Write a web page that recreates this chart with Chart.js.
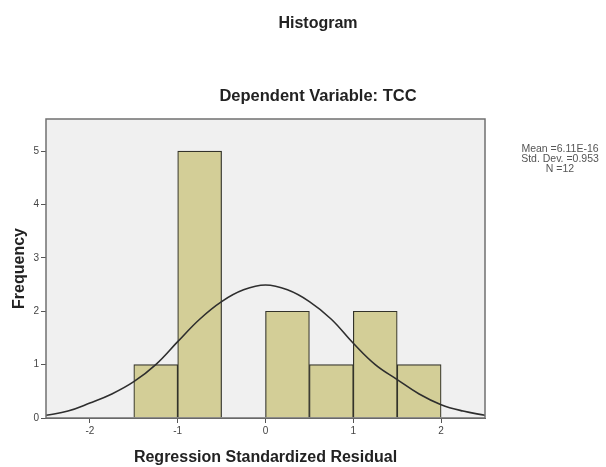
<!DOCTYPE html>
<html>
<head>
<meta charset="utf-8">
<script src="https://cdn.jsdelivr.net/npm/chart.js@4"></script>
<style>
  body { margin: 0; background: #fff; }
  #wrap { width: 606px; height: 467px; position: relative; }
</style>
</head>
<body>
<div id="wrap"><canvas id="histChart"></canvas></div>
<script>
// bin centres (width 0.5) and counts
const binCenters = [-1.25, -0.75, -0.25, 0.25, 0.75, 1.25, 1.75];
const binCounts = [1, 5, 0, 2, 1, 2, 1];

// normal curve
const curveX = [-2.5, -2.25, -2, -1.75, -1.5, -1.25, -1, -0.75, -0.5, -0.25, 0,
                0.25, 0.5, 0.75, 1, 1.25, 1.5, 1.75, 2, 2.25, 2.5];
const curveY = [0.05, 0.13, 0.28, 0.45, 0.68, 1.0, 1.43, 1.85, 2.18, 2.4, 2.49,
                2.4, 2.18, 1.85, 1.4, 1.0, 0.72, 0.45, 0.25, 0.13, 0.05];

const xTicks = [-2, -1, 0, 1, 2];
const yTicks = [0, 1, 2, 3, 4, 5];
const statsLines = ["Mean =6.11E-16", "Std. Dev. =0.953", "N =12"];

const FONT = "'Liberation Sans', Arial, sans-serif";

// plot box background + frame, titles and stats text
const frame = {
    id: 'frame',
    beforeDatasetsDraw(chart) {
        const a = chart.chartArea, ctx = chart.ctx;
        ctx.save();
        ctx.fillStyle = "#f0f0f0";
        ctx.fillRect(a.left, a.top, a.right - a.left, a.bottom - a.top);
        ctx.restore();
    },
    afterDraw(chart) {
        const a = chart.chartArea, ctx = chart.ctx;
        ctx.save();
        ctx.strokeStyle = "#707070";
        ctx.lineWidth = 1.5;
        ctx.strokeRect(a.left, a.top, a.right - a.left, a.bottom - a.top);

        ctx.fillStyle = "#222";
        ctx.textAlign = "center";
        ctx.textBaseline = "middle";
        ctx.font = "bold 16px " + FONT;
        ctx.fillText("Histogram", 318, 24);
        ctx.font = "bold 16.5px " + FONT;
        ctx.fillText("Dependent Variable: TCC", 318, 96);

        ctx.font = "10.5px " + FONT;
        ctx.fillStyle = "#555";
        statsLines.forEach((t, i) => ctx.fillText(t, 560, 149 + i * 10));
        ctx.restore();
    }
};

new Chart(document.getElementById("histChart"), {
    data: {
        datasets: [{
            type: 'line',
            data: curveX.map((x, i) => ({x: x, y: curveY[i]})),
            borderColor: "#2e2e2e",
            borderWidth: 1.6,
            pointRadius: 0,
            tension: 0.4,
            fill: false,
            order: 0
        }, {
            type: 'bar',
            data: binCenters.map((x, i) => ({x: x, y: binCounts[i]})),
            backgroundColor: "#d3ce97",
            borderColor: "#33332a",
            borderWidth: 1.2,
            barPercentage: 1,
            categoryPercentage: 1,
            order: 1
        }]
    },
    options: {
        responsive: true,
        maintainAspectRatio: false,
        animation: false,
        layout: { padding: { top: 119, right: 121, left: 10, bottom: 0 } },
        plugins: {
            legend: { display: false },
            tooltip: { enabled: false }
        },
        scales: {
            x: {
                type: 'linear',
                min: -2.5,
                max: 2.5,
                offset: false,
                afterBuildTicks: s => { s.ticks = xTicks.map(v => ({value: v})); },
                afterFit: s => { s.height = 49; },
                grid: { drawOnChartArea: false, offset: false, tickLength: 5, color: "#555" },
                border: { color: "#555" },
                ticks: { color: "#444", font: { family: FONT, size: 10 }, padding: 2, maxRotation: 0 },
                title: {
                    display: true,
                    text: "Regression Standardized Residual",
                    color: "#222",
                    font: { family: FONT, size: 16, weight: 'bold' },
                    padding: { top: 2, bottom: 0 }
                }
            },
            y: {
                min: 0,
                max: 5.6,
                afterBuildTicks: s => { s.ticks = yTicks.map(v => ({value: v})); },
                afterFit: s => { s.width = 36; },
                grid: { drawOnChartArea: false, tickLength: 5, color: "#555" },
                border: { color: "#555" },
                ticks: { color: "#444", font: { family: FONT, size: 10 }, padding: 2 },
                title: {
                    display: true,
                    text: "Frequency",
                    color: "#222",
                    font: { family: FONT, size: 16, weight: 'bold' },
                    padding: { top: 0, bottom: 2 }
                }
            }
        }
    },
    plugins: [frame]
});
</script>
</body>
</html>
